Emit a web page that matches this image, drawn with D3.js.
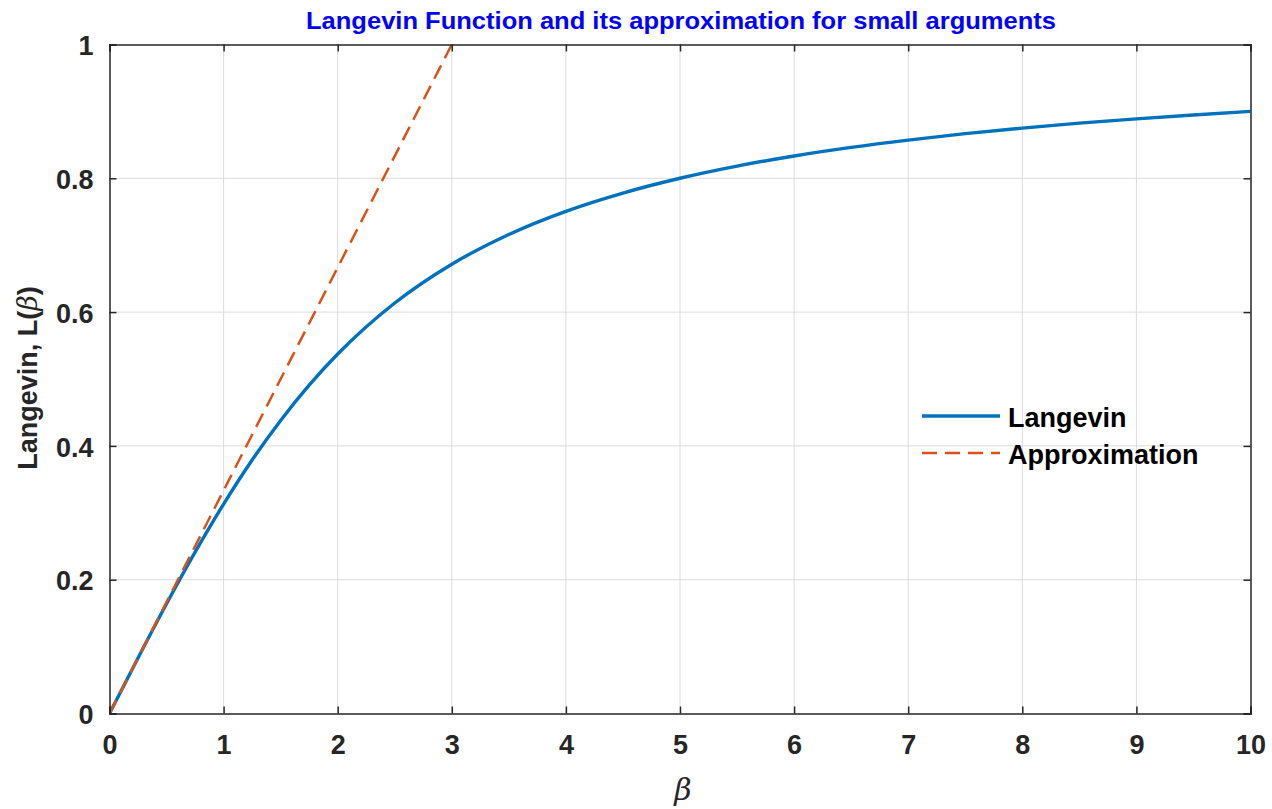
<!DOCTYPE html>
<html>
<head>
<meta charset="utf-8">
<script src="https://cdn.jsdelivr.net/npm/d3@7"></script>
<style>
  html, body { margin: 0; padding: 0; background: #fff; }
  svg { display: block; }
  text { font-family: Arial, "Liberation Sans", Helvetica, sans-serif; }
</style>
</head>
<body>
<svg id="chart" width="1272" height="809"></svg>
<script>
// Langevin function L(beta) = coth(beta) - 1/beta, sampled along beta
const betaValues = [0, 0.25, 0.5, 0.75, 1, 1.25, 1.5, 1.75, 2, 2.5, 3, 3.5, 4, 4.5, 5, 5.5, 6, 6.5, 7, 7.5, 8, 8.5, 9, 9.5, 10];
const langevinValues = [0, 0.0830, 0.1640, 0.2411, 0.3130, 0.3789, 0.4381, 0.4908, 0.5373, 0.6136, 0.6716, 0.7161, 0.7507, 0.7780, 0.8001, 0.8182, 0.8334, 0.8462, 0.8571, 0.8667, 0.8750, 0.8824, 0.8889, 0.8947, 0.9000];

// Small-argument approximation L(beta) ~ beta/3
const approxBeta = [0, 3];
const approxValues = [0, 1];

const xTicks = [0, 1, 2, 3, 4, 5, 6, 7, 8, 9, 10];
const yTicks = [0, 0.2, 0.4, 0.6, 0.8, 1];
const yTickLabels = ["0", "0.2", "0.4", "0.6", "0.8", "1"];

const seriesNames = ["Langevin", "Approximation"];
const seriesColors = ["#0072BD", "#D95319"];

const svg = d3.select("#chart");
const plotLeft = 109.5, plotRight = 1250.5, plotTop = 44.5, plotBottom = 713.5;

const x = d3.scaleLinear().domain([0, 10]).range([plotLeft, plotRight]);
const y = d3.scaleLinear().domain([0, 1]).range([plotBottom, plotTop]);

const axisColor = "#262626";
const gridColor = "#dcdcdc";
const labelSize = "27px";

// Grid
const grid = svg.append("g");
grid.selectAll("line.vx").data(xTicks.slice(1, -1)).enter().append("line")
  .attr("x1", d => x(d)).attr("x2", d => x(d))
  .attr("y1", plotTop).attr("y2", plotBottom)
  .attr("stroke", gridColor).attr("stroke-width", 1);
grid.selectAll("line.hy").data(yTicks.slice(1, -1)).enter().append("line")
  .attr("y1", d => y(d)).attr("y2", d => y(d))
  .attr("x1", plotLeft).attr("x2", plotRight)
  .attr("stroke", gridColor).attr("stroke-width", 1);

// Plot area clip
svg.append("clipPath").attr("id", "plotclip")
  .append("rect").attr("x", plotLeft).attr("y", plotTop - 2)
  .attr("width", plotRight - plotLeft).attr("height", plotBottom - plotTop + 2);

const plot = svg.append("g").attr("clip-path", "url(#plotclip)");

const langevinLine = d3.line()
  .x((d, i) => x(betaValues[i]))
  .y(d => y(d))
  .curve(d3.curveMonotoneX);

plot.append("path")
  .datum(langevinValues)
  .attr("d", langevinLine)
  .attr("fill", "none")
  .attr("stroke", seriesColors[0])
  .attr("stroke-width", 3.4);

const approxLine = d3.line()
  .x((d, i) => x(approxBeta[i]))
  .y(d => y(d));

plot.append("path")
  .datum(approxValues)
  .attr("d", approxLine)
  .attr("fill", "none")
  .attr("stroke", seriesColors[1])
  .attr("stroke-width", 2.5)
  .attr("stroke-dasharray", "15,8");

// Axes (box with inward ticks on all sides)
const tickLen = 7;
const xAxisBottom = d3.axisBottom(x).tickValues(xTicks).tickSize(-tickLen).tickPadding(21).tickFormat(d3.format("d"));
const xAxisTop = d3.axisTop(x).tickValues(xTicks).tickSize(-tickLen).tickFormat("");
const yAxisLeft = d3.axisLeft(y).tickValues(yTicks).tickSize(-tickLen).tickPadding(16).tickFormat((d, i) => yTickLabels[i]);
const yAxisRight = d3.axisRight(y).tickValues(yTicks).tickSize(-tickLen).tickFormat("");

function styleAxis(g) {
  g.select(".domain").attr("stroke", axisColor).attr("stroke-width", 1.5);
  g.selectAll(".tick line").attr("stroke", axisColor).attr("stroke-width", 1.5);
  g.selectAll(".tick text")
    .attr("fill", axisColor)
    .style("font-size", labelSize)
    .style("font-weight", "bold");
}

svg.append("g").attr("transform", `translate(0,${plotBottom})`).call(xAxisBottom).call(styleAxis);
svg.append("g").attr("transform", `translate(0,${plotTop})`).call(xAxisTop).call(styleAxis);
svg.append("g").attr("transform", `translate(${plotLeft},0)`).call(yAxisLeft).call(styleAxis)
  .selectAll(".tick text").attr("dy", "0.38em");
svg.append("g").attr("transform", `translate(${plotRight},0)`).call(yAxisRight).call(styleAxis);

// Title
svg.append("text")
  .attr("x", 681).attr("y", 29)
  .attr("text-anchor", "middle")
  .attr("fill", "#0000FF")
  .attr("textLength", 750)
  .attr("lengthAdjust", "spacingAndGlyphs")
  .style("font-size", "24px")
  .style("font-weight", "bold")
  .text("Langevin Function and its approximation for small arguments");

// X label
svg.append("text")
  .attr("x", 683).attr("y", 800)
  .attr("text-anchor", "middle")
  .attr("fill", axisColor)
  .style("font-family", "'DejaVu Serif', 'Liberation Serif', serif")
  .style("font-style", "italic")
  .style("font-size", "30px")
  .text("β");

// Y label
const yl = svg.append("text")
  .attr("transform", `translate(37,378) rotate(-90)`)
  .attr("text-anchor", "middle")
  .attr("fill", axisColor)
  .style("font-size", labelSize)
  .style("font-weight", "bold");
yl.append("tspan").text("Langevin, L(");
yl.append("tspan")
  .style("font-family", "'DejaVu Serif', 'Liberation Serif', serif")
  .style("font-style", "italic")
  .style("font-weight", "normal")
  .text("β");
yl.append("tspan").text(")");

// Legend
const legend = svg.append("g").attr("transform", "translate(922,0)");
const legendY = [416, 453];
legend.selectAll("line").data(seriesNames).enter().append("line")
  .attr("x1", 0).attr("x2", 78)
  .attr("y1", (d, i) => legendY[i]).attr("y2", (d, i) => legendY[i])
  .attr("stroke", (d, i) => seriesColors[i])
  .attr("stroke-width", (d, i) => i === 0 ? 3.4 : 2.5)
  .attr("stroke-dasharray", (d, i) => i === 0 ? null : "15,8");
legend.selectAll("text").data(seriesNames).enter().append("text")
  .attr("x", 86)
  .attr("y", (d, i) => legendY[i] + 11)
  .attr("fill", "#000")
  .style("font-size", labelSize)
  .style("font-weight", "bold")
  .text(d => d);
</script>
</body>
</html>
